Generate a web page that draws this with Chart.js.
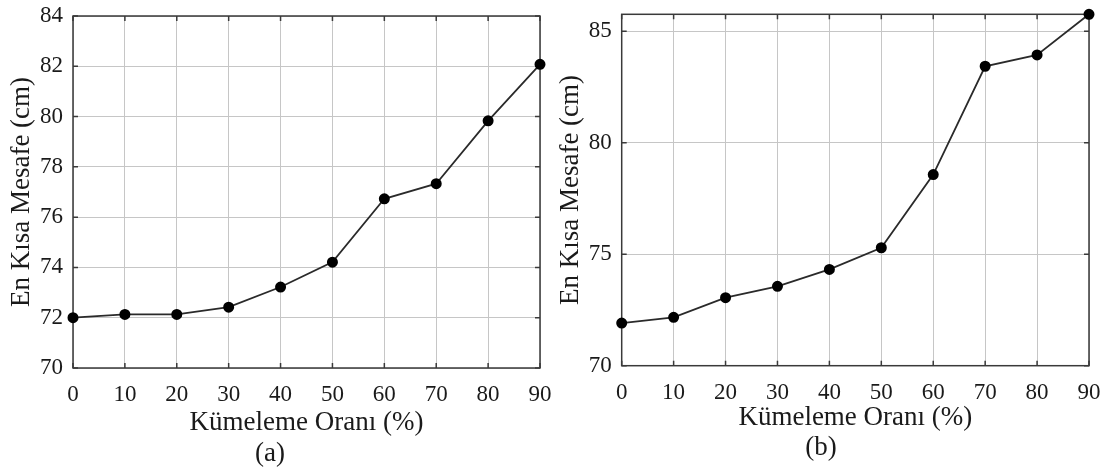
<!DOCTYPE html>
<html>
<head>
<meta charset="utf-8">
<script src="https://cdn.jsdelivr.net/npm/chart.js@4"></script>
<style>
  body { margin: 0; background: #fff; }
  .panel { position: absolute; top: 0; height: 469px; }
  #panelA { left: 0; width: 553px; }
  #panelB { left: 553px; width: 554px; }
</style>
</head>
<body>
<div class="panel" id="panelA"><canvas id="chartA"></canvas></div>
<div class="panel" id="panelB"><canvas id="chartB"></canvas></div>
<script>
// Clustering ratio (%) - x values shared by both panels
var clusterRatios = [0, 10, 20, 30, 40, 50, 60, 70, 80, 90];

// Shortest distance (cm) for panel (a) and panel (b)
var distancesA = [72.0, 72.13, 72.13, 72.42, 73.22, 74.21, 76.73, 77.33, 79.83, 82.08];
var distancesB = [71.91, 72.17, 73.05, 73.56, 74.32, 75.29, 78.57, 83.43, 83.94, 85.76];

// Tick values
var xTicks = [0, 10, 20, 30, 40, 50, 60, 70, 80, 90];
var yTicksA = [70, 72, 74, 76, 78, 80, 82, 84];
var yTicksB = [70, 75, 80, 85];

var xTitle = 'Kümeleme Oranı (%)';
var yTitle = 'En Kısa Mesafe (cm)';

var serif = "'Liberation Serif', 'Times New Roman', serif";
var textColor = '#1a1a1a';

Chart.defaults.font.family = serif;
Chart.defaults.color = textColor;

// box around the plot area, with short inward ticks on every side
var framePlugin = {
  id: 'frame',
  beforeDatasetsDraw: function (chart) {
    var ctx = chart.ctx, a = chart.chartArea;
    var xs = chart.scales.x, ys = chart.scales.y;
    ctx.save();
    ctx.strokeStyle = '#3a3a3a';
    ctx.lineWidth = 1.5;
    ctx.strokeRect(a.left, a.top, a.right - a.left, a.bottom - a.top);
    ctx.beginPath();
    xs.ticks.forEach(function (t) {
      var px = xs.getPixelForValue(t.value);
      ctx.moveTo(px, a.top); ctx.lineTo(px, a.top + 5);
      ctx.moveTo(px, a.bottom); ctx.lineTo(px, a.bottom - 5);
    });
    ys.ticks.forEach(function (t) {
      var py = ys.getPixelForValue(t.value);
      ctx.moveTo(a.left, py); ctx.lineTo(a.left + 5, py);
      ctx.moveTo(a.right, py); ctx.lineTo(a.right - 5, py);
    });
    ctx.stroke();
    ctx.restore();
  }
};

function makePanel(canvasId, values, yTicks, caption, g) {
  var points = clusterRatios.map(function (x, i) { return { x: x, y: values[i] }; });
  return new Chart(document.getElementById(canvasId), {
    type: 'line',
    data: {
      datasets: [{
        data: points,
        borderColor: '#2a2a2a',
        borderWidth: 1.8,
        backgroundColor: '#000',
        pointBackgroundColor: '#000',
        pointBorderColor: '#000',
        pointRadius: 4.6,
        tension: 0,
        clip: false
      }]
    },
    options: {
      responsive: true,
      maintainAspectRatio: false,
      animation: false,
      layout: { padding: { top: g.top, right: g.right, left: 0, bottom: g.bottom } },
      plugins: {
        legend: { display: false },
        tooltip: { enabled: false },
        title: {
          display: true,
          position: 'bottom',
          text: caption,
          color: textColor,
          font: { family: serif, size: 27, weight: 'normal', lineHeight: 1.1 },
          padding: { top: g.capPad, bottom: 0 }
        }
      },
      scales: {
        x: {
          type: 'linear',
          min: xTicks[0],
          max: xTicks[xTicks.length - 1],
          afterBuildTicks: function (s) { s.ticks = xTicks.map(function (v) { return { value: v }; }); },
          afterFit: function (s) { s.height = g.xH; },
          // invisible tick marks keep the labels clear of the axis
          grid: { color: '#c6c6c6', lineWidth: 1, drawTicks: true, tickLength: 13, tickColor: 'rgba(0,0,0,0)' },
          border: { display: false },
          ticks: { padding: 0, font: { size: 23 }, color: textColor },
          title: {
            display: true,
            text: xTitle,
            color: textColor,
            font: { size: 27, lineHeight: 1.1 },
            padding: { top: 0, bottom: 0 }
          }
        },
        y: {
          min: yTicks[0],
          max: g.yMax,
          afterBuildTicks: function (s) { s.ticks = yTicks.map(function (v) { return { value: v }; }); },
          afterFit: function (s) { s.width = g.yW; },
          grid: { color: '#c6c6c6', lineWidth: 1, drawTicks: true, tickLength: 10, tickColor: 'rgba(0,0,0,0)' },
          border: { display: false },
          ticks: { padding: 0, font: { size: 23 }, color: textColor },
          title: {
            display: true,
            text: yTitle,
            color: textColor,
            font: { size: 27, lineHeight: 1.1 },
            padding: { top: g.yTitlePad, bottom: 0 }
          }
        }
      }
    },
    plugins: [framePlugin]
  });
}

makePanel('chartA', distancesA, yTicksA, '(a)', {
  top: 16, right: 13, bottom: 0.7, capPad: 0.75, xH: 69.85, yW: 73, yTitlePad: 7.2,
  yMax: yTicksA[yTicksA.length - 1]
});

makePanel('chartB', distancesB, yTicksB, '(b)', {
  top: 14.3, right: 18, bottom: 6.15, capPad: 0, xH: 67.45, yW: 68.7, yTitlePad: 3.2,
  yMax: Math.max.apply(null, distancesB)
});
</script>
</body>
</html>
